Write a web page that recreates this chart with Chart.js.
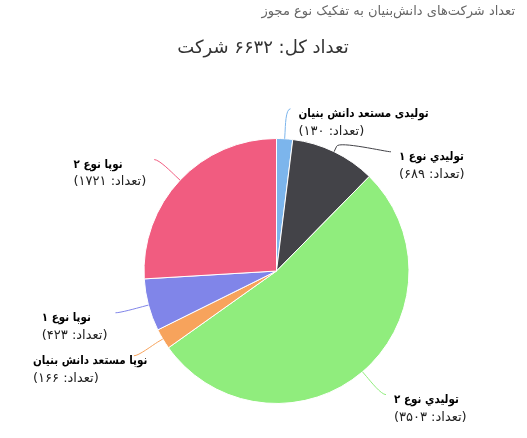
<!DOCTYPE html>
<html lang="fa">
<head>
<meta charset="utf-8">
<title>تعداد شرکت‌های دانش‌بنیان به تفکیک نوع مجوز</title>
<script src="https://cdn.jsdelivr.net/npm/chart.js@4.4.1/dist/chart.umd.min.js"></script>
<style>
  html, body { margin: 0; padding: 0; background: #fff; }
  #wrap { width: 527px; height: 438px; }
</style>
</head>
<body>
<div id="wrap"><canvas id="grafica" width="527" height="438"></canvas></div>
<script>
// ---------------------------------------------------------------------------
// Pie de شرکت‌های دانش‌بنیان por tipo de licencia, etiquetas con línea guía
// ---------------------------------------------------------------------------

const CATEGORIAS = [
  'تولیدی مستعد دانش بنیان',
  'تولیدي نوع ۱',
  'تولیدي نوع ۲',
  'نوپا مستعد دانش بنیان',
  'نوپا نوع ۱',
  'نوپا نوع ۲',
];
const CANTIDADES = [130, 689, 3503, 166, 423, 1721];
const COLORES = ['#7cb5ec', '#434348', '#90ed7d', '#f7a35c', '#8085e9', '#f15c80'];

const SUBTITULO = 'تعداد شرکت‌های دانش‌بنیان به تفکیک نوع مجوز';
const FUENTE = '"DejaVu Sans", "Noto Sans", sans-serif';
const FUENTE_NOMBRE = 'bold 11.5px "DejaVu Sans Condensed", "DejaVu Sans", sans-serif';
const FUENTE_CUENTA = `13px ${FUENTE}`;

const aFarsi = (n) => String(n).replace(/\d/g, (d) => '۰۱۲۳۴۵۶۷۸۹'[d]);
const total = CANTIDADES.reduce((s, v) => s + v, 0);
const TITULO = `تعداد کل: ${aFarsi(total)} شرکت`;

// --- Títulos (dibujados a mano para no mover el área del pie) ---------------
const titulosPlugin = {
  id: 'titulos',
  afterDraw(chart) {
    const ctx = chart.ctx;
    ctx.save();
    ctx.direction = 'rtl';
    ctx.textBaseline = 'middle';
    ctx.fillStyle = '#666666';
    ctx.font = `13px ${FUENTE}`;
    ctx.textAlign = 'right';
    ctx.fillText(SUBTITULO, 515, 12);
    ctx.fillStyle = '#333333';
    ctx.font = `18px ${FUENTE}`;
    ctx.textAlign = 'center';
    ctx.fillText(TITULO, 263, 48);
    ctx.restore();
  },
};

// --- Etiquetas exteriores con conector ------------------------------------
const DIST = 30;      // distancia de la etiqueta al borde del pie
const ALTO = 43;      // alto de cada etiqueta (dos líneas)
const MARGEN = 33;    // borde izquierdo mínimo

const etiquetasPlugin = {
  id: 'etiquetas',
  afterDatasetsDraw(chart) {
    const ctx = chart.ctx;
    const arcs = chart.getDatasetMeta(0).data;

    const items = arcs.map((arc, i) => {
      const { x, y, startAngle, endAngle, outerRadius } =
        arc.getProps(['x', 'y', 'startAngle', 'endAngle', 'outerRadius'], true);
      const ang = (startAngle + endAngle) / 2;
      const cos = Math.cos(ang);
      const sin = Math.sin(ang);
      const R = outerRadius + DIST;
      return {
        i, cx: x, cy: y, R, cos,
        dir: cos >= 0 ? 1 : -1,
        toca: { x: x + cos * outerRadius, y: y + sin * outerRadius },
        quiebre: { x: x + cos * (outerRadius + DIST / 5), y: y + sin * (outerRadius + DIST / 5) },
        ly: y + sin * R,
      };
    });

    // Empuja hacia abajo las etiquetas que se pisan (por lado)
    [1, -1].forEach((dir) => {
      const lado = items.filter((it) => it.dir === dir).sort((a, b) => a.ly - b.ly);
      for (let k = 1; k < lado.length; k++) {
        lado[k].ly = Math.max(lado[k].ly, lado[k - 1].ly + ALTO);
      }
    });

    ctx.save();
    ctx.direction = 'rtl';
    ctx.textBaseline = 'middle';
    ctx.textAlign = 'left';
    ctx.lineWidth = 1;

    items.forEach((it) => {
      const dy = it.ly - it.cy;
      const dx = Math.abs(dy) < it.R ? Math.sqrt(it.R * it.R - dy * dy) : it.R * Math.abs(it.cos);
      const lx = it.cx + it.dir * dx;
      const fin = lx + it.dir * 4;

      // conector
      ctx.strokeStyle = COLORES[it.i];
      ctx.beginPath();
      ctx.moveTo(fin, it.ly);
      ctx.bezierCurveTo(
        fin - it.dir * 5, it.ly,
        2 * it.quiebre.x - it.toca.x, 2 * it.quiebre.y - it.toca.y,
        it.quiebre.x, it.quiebre.y
      );
      ctx.lineTo(it.toca.x, it.toca.y);
      ctx.stroke();

      // texto
      const nombre = CATEGORIAS[it.i];
      const cuenta = `(تعداد: ${aFarsi(CANTIDADES[it.i])})`;
      ctx.font = FUENTE_NOMBRE;
      const w1 = ctx.measureText(nombre).width;
      ctx.font = FUENTE_CUENTA;
      const w2 = ctx.measureText(cuenta).width;
      let tx;
      if (it.dir > 0) {
        tx = lx + 12;
      } else {
        tx = Math.max(lx - 12 - Math.max(w1, w2), MARGEN);
      }
      ctx.fillStyle = '#000000';
      ctx.font = FUENTE_NOMBRE;
      ctx.fillText(nombre, tx, it.ly + 5);
      ctx.fillStyle = '#222222';
      ctx.font = FUENTE_CUENTA;
      ctx.fillText(cuenta, tx, it.ly + 22.5);
    });
    ctx.restore();
  },
};

new Chart(document.querySelector('#grafica'), {
  type: 'pie',
  data: {
    labels: CATEGORIAS,
    datasets: [{
      data: CANTIDADES,
      backgroundColor: COLORES,
      borderColor: '#FFFFFF',
      borderWidth: 1,
    }],
  },
  options: {
    responsive: false,
    animation: false,
    layout: { padding: { left: 143.5, right: 117.5, top: 138, bottom: 34 } },
    plugins: {
      legend: { display: false },
      title: { display: false },
      tooltip: { enabled: false },
    },
  },
  plugins: [etiquetasPlugin, titulosPlugin],
});
</script>
</body>
</html>
